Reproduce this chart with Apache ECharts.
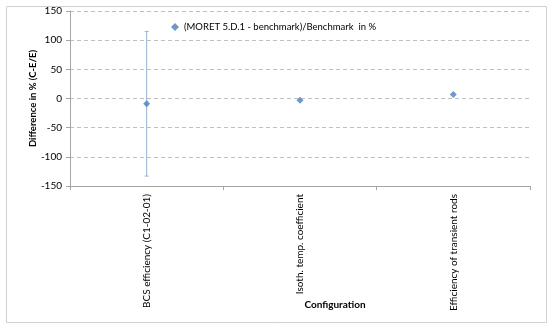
<!DOCTYPE html>
<html>
<head>
<meta charset="utf-8">
<script src="https://cdn.jsdelivr.net/npm/echarts@6/dist/echarts.min.js"></script>
<style>
    html, body { margin: 0; padding: 0; background: #fff; }
    #chart { width: 550px; height: 328px; }
</style>
</head>
<body>
<div id="chart"></div>
<script>
    // data
    var categories = ['BCS efficiency (C1-02-01)', 'Isoth. temp. coefficient', 'Efficiency of transient rods']
    var diffValues = [-9, -3, 7]
    var errLow = [-133, null, null]
    var errHigh = [115, null, null]
    var seriesName = '(MORET 5.D.1 - benchmark)/Benchmark  in %'

    var font = 'Lato, "Open Sans", sans-serif'

    var errData = []
    categories.forEach(function (c, i) {
        if (errLow[i] !== null) errData.push([i, errLow[i], errHigh[i]])
    })

    var chart = echarts.init(document.getElementById('chart'), null, {renderer: 'canvas'})
    var option = {
        animation: false,
        textStyle: {fontFamily: font},
        graphic: [{
            type: 'rect', left: 4, top: 4, z: -1,
            shape: {width: 540, height: 316},
            style: {fill: 'none', stroke: '#d0d0d0', lineWidth: 1}
        }],
        legend: {
            left: 166, top: 17,
            itemWidth: 8, itemHeight: 8, itemGap: 4,
            textStyle: {fontSize: 9.5, color: '#000', fontFamily: font},
            data: [{name: seriesName, icon: 'diamond'}]
        },
        grid: {left: 70, right: 20, top: 11, bottom: 142, containLabel: false, outerBoundsMode: 'none'},
        xAxis: {
            type: 'category',
            data: categories,
            boundaryGap: true,
            name: 'Configuration',
            nameLocation: 'middle',
            nameGap: 114,
            nameMoveOverlap: false,
            nameTextStyle: {fontSize: 10, fontWeight: 'bold', color: '#000', fontFamily: font, padding: [0, 0, 0, 70]},
            axisLine: {onZero: false, lineStyle: {color: '#a6a6a6'}},
            axisTick: {show: true, alignWithLabel: false, length: 4, lineStyle: {color: '#a6a6a6'}},
            axisLabel: {rotate: 90, fontSize: 10, color: '#000', margin: 8, interval: 0, fontFamily: font},
            splitLine: {show: false}
        },
        yAxis: {
            type: 'value',
            min: -150, max: 150, interval: 50,
            name: 'Difference in % (C-E/E)',
            nameLocation: 'middle',
            nameGap: 32,
            nameMoveOverlap: false,
            nameTextStyle: {fontSize: 9.5, fontWeight: 'bold', color: '#000', fontFamily: font},
            axisLine: {show: true, lineStyle: {color: '#a6a6a6'}},
            axisTick: {show: true, length: 4, inside: false, lineStyle: {color: '#a6a6a6'}},
            axisLabel: {fontSize: 10, color: '#000', margin: 8, fontFamily: font},
            splitLine: {lineStyle: {color: '#bfbfbf', type: [4, 3]}}
        },
        series: [
            {
                type: 'custom',
                name: 'err',
                data: errData,
                z: 1,
                renderItem: function (params, api) {
                    var x = api.value(0)
                    var lo = api.coord([x, api.value(1)])
                    var hi = api.coord([x, api.value(2)])
                    var st = {stroke: '#95b3d7', lineWidth: 1}
                    return {
                        type: 'group',
                        children: [
                            {type: 'line', shape: {x1: lo[0], y1: lo[1], x2: hi[0], y2: hi[1]}, style: st},
                            {type: 'line', shape: {x1: lo[0] - 2, y1: lo[1], x2: lo[0] + 2, y2: lo[1]}, style: st},
                            {type: 'line', shape: {x1: hi[0] - 2, y1: hi[1], x2: hi[0] + 2, y2: hi[1]}, style: st}
                        ]
                    }
                }
            },
            {
                type: 'scatter',
                name: seriesName,
                data: diffValues,
                symbol: 'diamond',
                symbolSize: 7,
                z: 3,
                itemStyle: {color: '#4a7ebb'}
            }
        ]
    }
    chart.setOption(option)
</script>
</body>
</html>
